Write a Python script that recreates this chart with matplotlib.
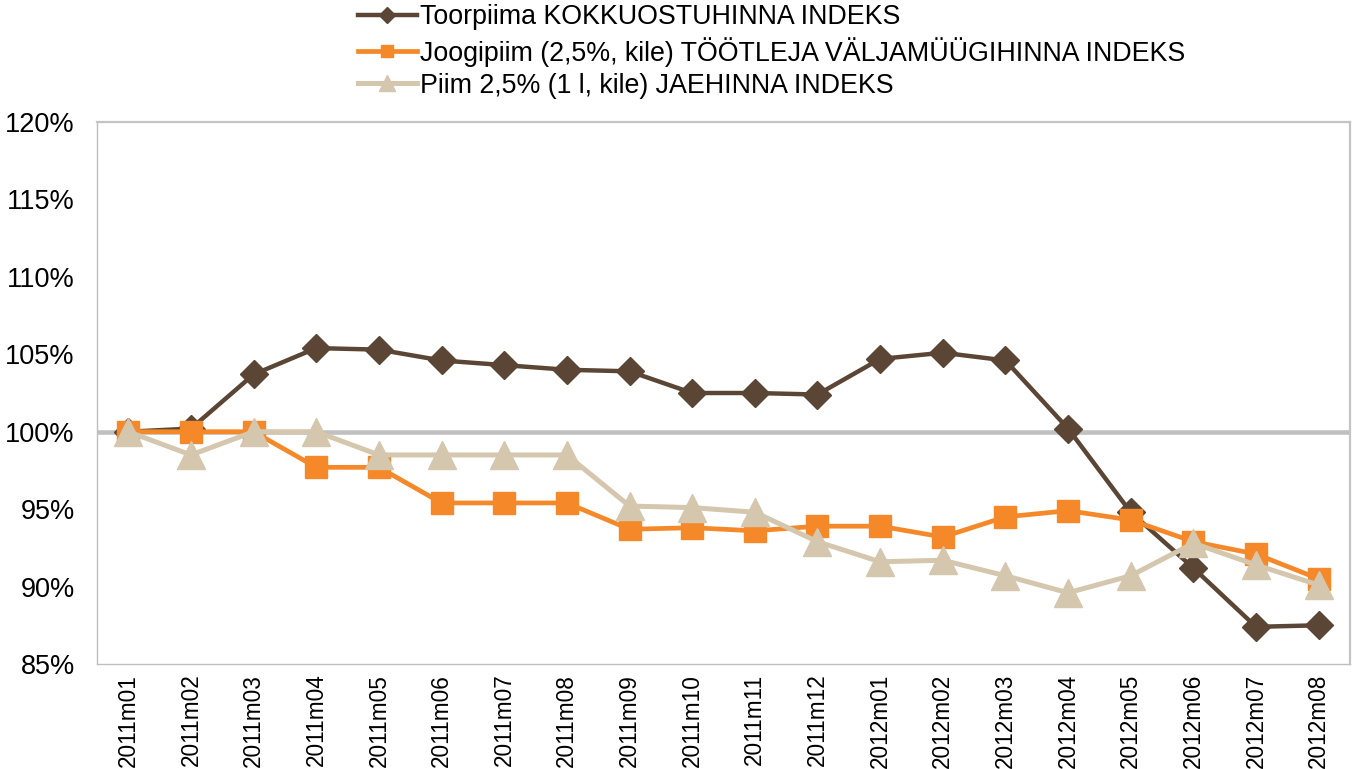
import matplotlib
matplotlib.use("Agg")
import matplotlib.pyplot as plt
from matplotlib.ticker import FuncFormatter

plt.rcParams['font.family'] = ['Liberation Sans', 'DejaVu Sans']

# ---- data ----
months = ["2011m01", "2011m02", "2011m03", "2011m04", "2011m05", "2011m06",
          "2011m07", "2011m08", "2011m09", "2011m10", "2011m11", "2011m12",
          "2012m01", "2012m02", "2012m03", "2012m04", "2012m05", "2012m06",
          "2012m07", "2012m08"]

toorpiima = [100.0, 100.2, 103.7, 105.4, 105.3, 104.6, 104.3, 104.0, 103.9, 102.5,
             102.5, 102.4, 104.7, 105.1, 104.6, 100.2, 94.8, 91.2, 87.4, 87.5]
joogipiim = [100.0, 100.0, 100.0, 97.7, 97.7, 95.4, 95.4, 95.4, 93.7, 93.8,
             93.6, 93.9, 93.9, 93.2, 94.5, 94.9, 94.3, 92.9, 92.1, 90.5]
piim = [100.0, 98.5, 100.0, 100.0, 98.5, 98.5, 98.5, 98.5, 95.2, 95.1,
        94.8, 92.9, 91.6, 91.7, 90.7, 89.6, 90.7, 92.8, 91.4, 90.1]

labels = ["Toorpiima KOKKUOSTUHINNA INDEKS",
          "Joogipiim (2,5%, kile) TÖÖTLEJA VÄLJAMÜÜGIHINNA INDEKS",
          "Piim 2,5% (1 l, kile) JAEHINNA INDEKS"]

# ---- figure ----
fig = plt.figure(figsize=(13.54, 7.69), dpi=100)
ax = fig.add_axes([97 / 1354, 1 - 664 / 769, 1253 / 1354, 542 / 769])

x = range(len(months))
ax.axhline(100, color="#c0c0c0", lw=3.3, zorder=1)

l1, = ax.plot(x, toorpiima, color="#5b4636", lw=3.2, marker="D", ms=14.5,
              label=labels[0], zorder=3)
l2, = ax.plot(x, joogipiim, color="#f5892a", lw=3.4, marker="s", ms=16.5,
              label=labels[1], zorder=4)
l3, = ax.plot(x, piim, color="#d5c6ae", lw=3.6, marker="^", ms=20,
              label=labels[2], zorder=5)

ax.set_xlim(-0.5, len(months) - 0.5)
ax.set_ylim(85, 120)
ax.set_yticks(range(85, 121, 5))
ax.yaxis.set_major_formatter(FuncFormatter(lambda v, p: f"{v:.0f}%"))
ax.set_xticks(list(x))
ax.set_xticklabels(months, rotation=90)
ax.tick_params(axis="y", length=0, pad=16, labelsize=19.5)
ax.tick_params(axis="x", length=0, pad=7, labelsize=16.3)

for side in ["left", "bottom"]:
    ax.spines[side].set_color("#bfbfbf")
    ax.spines[side].set_linewidth(1.0)
for side in ["right", "top"]:
    ax.spines[side].set_color("#c4c4c4")
    ax.spines[side].set_linewidth(1.6)

fig.legend(handles=[l1, l2, l3], loc="upper left",
           bbox_to_anchor=(358 / 1354, 1 - 4.5 / 769), frameon=False,
           fontsize=19.3, handlelength=2.2, handletextpad=0.1,
           labelspacing=0.23, borderpad=0, borderaxespad=0,
           markerscale=0.55)

fig.savefig("out.png", dpi=100)
